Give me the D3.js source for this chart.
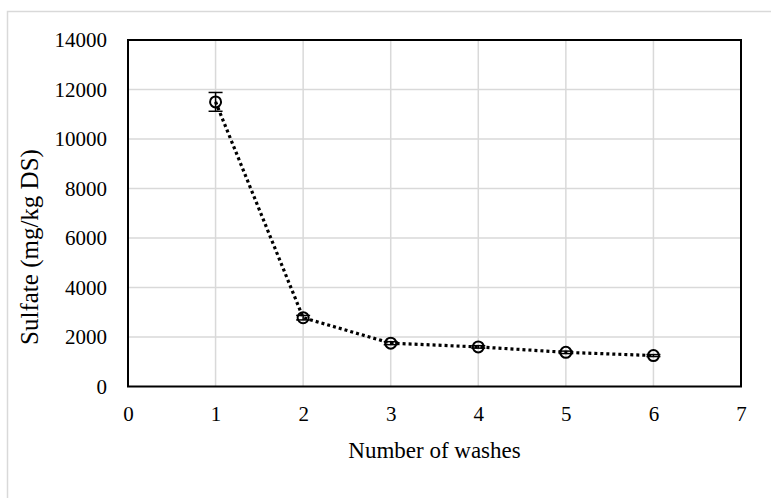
<!DOCTYPE html>
<html>
<head>
<meta charset="utf-8">
<script src="https://cdn.jsdelivr.net/npm/d3@7"></script>
<style>
  html, body { margin: 0; padding: 0; background: #fff; }
  svg { display: block; }
  text { font-family: "Liberation Serif", "Times New Roman", serif; fill: #000; }
</style>
</head>
<body>
<svg id="chart" width="771" height="498"></svg>
<script>
// Sulfate content after successive washes
const washes = [1, 2, 3, 4, 5, 6];
const sulfate = [11500, 2780, 1750, 1600, 1380, 1250];
const sulfateErr = [380, 90, 60, 50, 50, 40];
const xTicks = [0, 1, 2, 3, 4, 5, 6, 7];
const yTicks = [0, 2000, 4000, 6000, 8000, 10000, 12000, 14000];

const svg = d3.select("#chart");
const W = 771, H = 498;
const plot = { left: 128, top: 40, right: 741, bottom: 386.5 };
const tickFont = "21px";
const titleFont = "23px";

// outer chart frame
svg.append("rect")
  .attr("x", 7.5).attr("y", 11.5)
  .attr("width", W).attr("height", H)
  .attr("fill", "none").attr("stroke", "#d9d9d9").attr("stroke-width", 1.5);

const x = d3.scaleLinear().domain([0, 7]).range([plot.left, plot.right]);
const y = d3.scaleLinear().domain([0, 14000]).range([plot.bottom, plot.top]);

// gridlines
svg.append("g").selectAll("line")
  .data(xTicks.slice(1, -1)).join("line")
  .attr("x1", d => x(d)).attr("x2", d => x(d))
  .attr("y1", plot.top).attr("y2", plot.bottom)
  .attr("stroke", "#d9d9d9").attr("stroke-width", 1.5);
svg.append("g").selectAll("line")
  .data(yTicks.slice(1, -1)).join("line")
  .attr("x1", plot.left).attr("x2", plot.right)
  .attr("y1", d => y(d)).attr("y2", d => y(d))
  .attr("stroke", "#d9d9d9").attr("stroke-width", 1.5);

// plot frame
svg.append("rect")
  .attr("x", plot.left).attr("y", plot.top)
  .attr("width", plot.right - plot.left).attr("height", plot.bottom - plot.top)
  .attr("fill", "none").attr("stroke", "#000").attr("stroke-width", 2);

// axes (labels only)
const xAxis = d3.axisBottom(x).tickValues(xTicks).tickSize(0).tickPadding(20).tickFormat(d3.format("d"));
const gx = svg.append("g").attr("transform", `translate(0,${plot.bottom})`).call(xAxis);
gx.select(".domain").remove();
gx.attr("font-size", null).attr("font-family", null);
gx.selectAll("text").style("font-size", tickFont).attr("fill", "#000");

const yAxis = d3.axisLeft(y).tickValues(yTicks).tickSize(0).tickPadding(21).tickFormat(d3.format("d"));
const gy = svg.append("g").attr("transform", `translate(${plot.left},0)`).call(yAxis);
gy.select(".domain").remove();
gy.attr("font-size", null).attr("font-family", null);
gy.selectAll("text").style("font-size", tickFont).attr("fill", "#000");

// axis titles
svg.append("text")
  .attr("x", (plot.left + plot.right) / 2).attr("y", 458)
  .attr("text-anchor", "middle").style("font-size", titleFont)
  .text("Number of washes");
svg.append("text")
  .attr("transform", "translate(38,247) rotate(-90)")
  .attr("text-anchor", "middle").style("font-size", "25px")
  .text("Sulfate (mg/kg DS)");

const pts = washes.map((w, i) => ({ w, v: sulfate[i], e: sulfateErr[i] }));

// dotted connecting line
svg.append("path")
  .datum(pts)
  .attr("d", d3.line().x(d => x(d.w)).y(d => y(d.v)))
  .attr("fill", "none").attr("stroke", "#000")
  .attr("stroke-width", 3.2).attr("stroke-dasharray", "3,3");

// error bars
const eb = svg.append("g").selectAll("g").data(pts).join("g");
eb.append("line")
  .attr("x1", d => x(d.w)).attr("x2", d => x(d.w))
  .attr("y1", d => y(d.v + d.e)).attr("y2", d => y(d.v - d.e))
  .attr("stroke", "#000").attr("stroke-width", 1.5);
eb.append("line")
  .attr("x1", d => x(d.w) - 7).attr("x2", d => x(d.w) + 7)
  .attr("y1", d => y(d.v + d.e)).attr("y2", d => y(d.v + d.e))
  .attr("stroke", "#000").attr("stroke-width", 1.5);
eb.append("line")
  .attr("x1", d => x(d.w) - 7).attr("x2", d => x(d.w) + 7)
  .attr("y1", d => y(d.v - d.e)).attr("y2", d => y(d.v - d.e))
  .attr("stroke", "#000").attr("stroke-width", 1.5);

// markers
svg.append("g").selectAll("circle").data(pts).join("circle")
  .attr("cx", d => x(d.w)).attr("cy", d => y(d.v)).attr("r", 5.5)
  .attr("fill", "none").attr("stroke", "#000").attr("stroke-width", 2);
</script>
</body>
</html>
